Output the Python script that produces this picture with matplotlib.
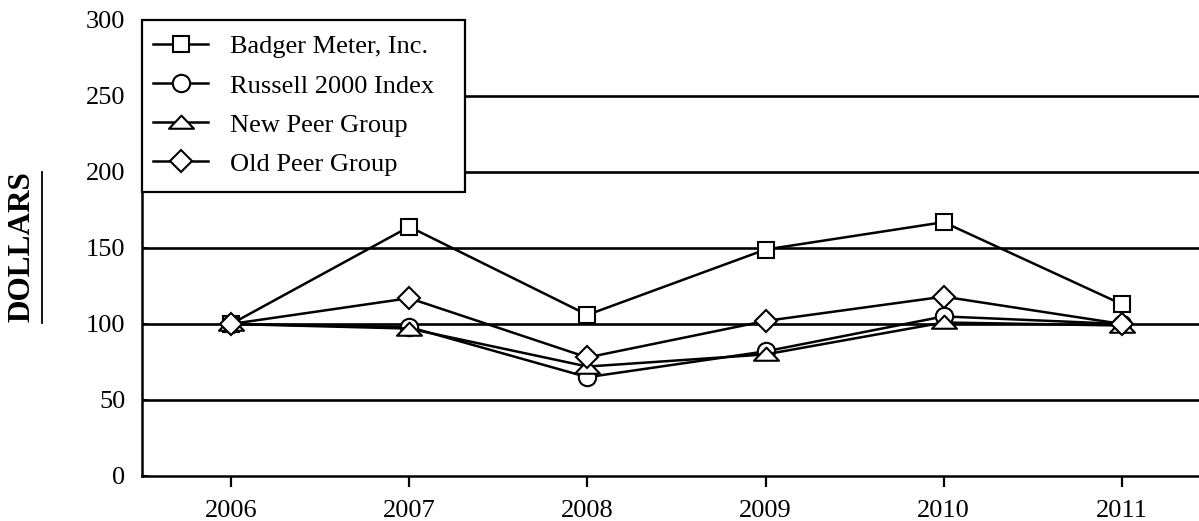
import matplotlib.pyplot as plt
from matplotlib.lines import Line2D
from matplotlib.patches import Rectangle
from matplotlib.path import Path

plt.rcParams['font.family'] = ['Liberation Serif', 'DejaVu Serif']

years = [2006, 2007, 2008, 2009, 2010, 2011]
badger = [100, 164, 106, 149, 167, 113]
russell = [100, 98, 65, 82, 105, 100]
new_peer = [100, 97, 72, 80, 101, 99]
old_peer = [100, 117, 78, 102, 118, 100]

# wide, flat triangle like the original print
flat_tri = Path([(-1.0, -0.5), (1.0, -0.5), (0.0, 0.55), (-1.0, -0.5)],
                [Path.MOVETO, Path.LINETO, Path.LINETO, Path.CLOSEPOLY])

series = [
    ("Badger Meter, Inc.", badger, "s", 12),
    ("Russell 2000 Index", russell, "o", 12.5),
    ("New Peer Group", new_peer, flat_tri, 18),
    ("Old Peer Group", old_peer, "D", 11.5),
]

W, H = 1199, 521
fig = plt.figure(figsize=(W / 100, H / 100), dpi=100)
ax = fig.add_axes([142 / W, 45 / H, 1 - 142 / W + 0.01, 456 / H])

# horizontal rules
for y in [50, 100, 150, 200, 250]:
    ax.axhline(y, color="black", lw=1.9, zorder=1)

for label, vals, m, ms in series:
    ax.plot(years, vals, color="black", lw=1.8, marker=m, markersize=ms,
            markerfacecolor="white", markeredgecolor="black", markeredgewidth=1.5,
            label=label, zorder=3)

ax.set_xlim(2005.5, 2011.5)
ax.set_ylim(0, 300)
ax.set_xticks(years)
ax.set_yticks([0, 50, 100, 150, 200, 250, 300])
ax.tick_params(axis="y", direction="in", length=4, width=1.4, labelsize=19, pad=12)
ax.tick_params(axis="x", direction="out", length=8, width=1.6, labelsize=19, pad=9)
ax.spines["top"].set_visible(False)
ax.spines["right"].set_visible(False)
ax.spines["left"].set_linewidth(1.8)
ax.spines["bottom"].set_linewidth(1.8)

# legend box drawn as a plain rectangle, entries placed inside it
box = Rectangle((142 / W, 1 - 192 / H), (465 - 142) / W, (192 - 20) / H,
                transform=fig.transFigure, facecolor="white", edgecolor="black",
                lw=1.6, zorder=4)
fig.add_artist(box)
leg = fig.legend(loc="upper left", bbox_to_anchor=(153 / W, 1 - 35 / H), fontsize=19,
                 frameon=False, borderaxespad=0, borderpad=0,
                 handlelength=2.1, labelspacing=0.59, handletextpad=0.8)
leg.set_zorder(5)

fig.text(22 / W, 1 - 247 / H, "DOLLARS", rotation=90, fontsize=22.5, fontweight="bold",
         ha="center", va="center")
fig.add_artist(Line2D([42 / W, 42 / W], [1 - 172 / H, 1 - 323 / H],
                      color="black", lw=1.3, transform=fig.transFigure))

fig.savefig("out.png", dpi=100)
